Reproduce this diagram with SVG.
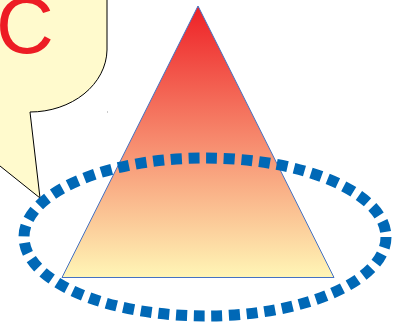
<svg xmlns="http://www.w3.org/2000/svg" width="403" height="325" viewBox="0 0 403 325">
<defs>
<linearGradient id="tri" x1="0" y1="0" x2="0" y2="1">
<stop offset="0" stop-color="#ee2026"/>
<stop offset="1" stop-color="#fff6b6"/>
</linearGradient>
<style>
.callout{fill:#fffacd;stroke:#000;stroke-width:1}
.label{font-family:"Liberation Sans",Arial,sans-serif;fill:#ed1c24}
.tri{fill:url(#tri);stroke:#4472c4;stroke-width:1}
.ring{fill:none;stroke:#0068b6;stroke-width:11;stroke-dasharray:11 6.7}
</style>
</defs>
<g id="callout">
<path class="callout" d="M107,-5 L107,50 A77,63 0 0 1 30,112 L40,198 L-10,158 L-10,-5 Z"/>
<text class="label" x="-4" y="53" font-size="80">C</text>
</g>
<rect x="107" y="111.5" width="1" height="1" fill="#999"/>
<g id="triangle">
<polygon class="tri" points="198,6 334,277.5 62,277.5"/>
</g>
<g id="ring">
<ellipse class="ring" cx="205" cy="237" rx="181" ry="79"/>
</g>
</svg>
